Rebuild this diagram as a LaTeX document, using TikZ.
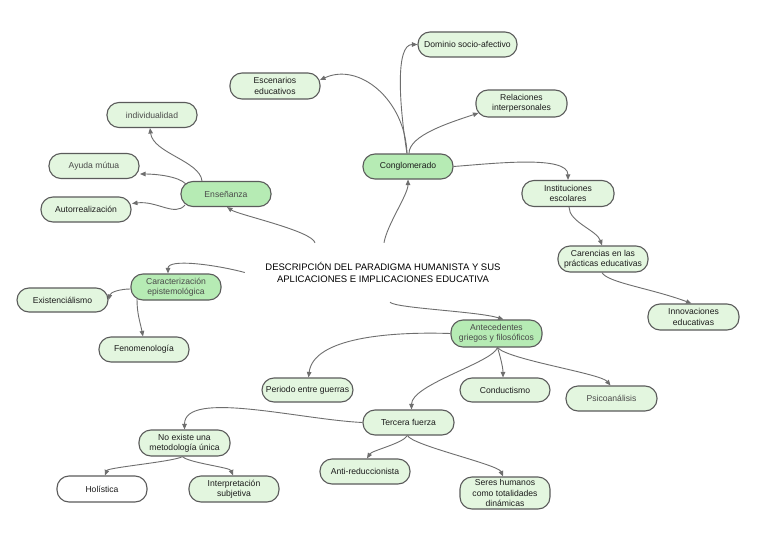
\documentclass[tikz,border=0pt]{standalone}
\usepackage{fontspec}
\setmainfont{Liberation Sans}
\usetikzlibrary{arrows.meta}
\definecolor{lightg}{HTML}{E3F6DF}
\definecolor{darkg}{HTML}{B6EBB4}
\definecolor{bord}{HTML}{5B5B5B}
\definecolor{connc}{HTML}{6E6E6E}
\definecolor{txtdark}{HTML}{1C1C1C}
\definecolor{txtlight}{HTML}{4A4A4A}
\begin{document}
\begin{tikzpicture}[x=1pt,y=-1pt,
  bubble/.style={draw=bord, line width=1.1pt, rounded corners=12pt, fill=lightg,
    minimum width=90pt, minimum height=25pt, align=center, inner sep=1pt,
    font=\fontsize{8.6}{10.2}\selectfont, text=txtdark},
  soft/.style={text=txtlight},
  hub/.style={bubble, fill=darkg},
  plain/.style={bubble, fill=white},
  titlebox/.style={minimum width=276pt, minimum height=59pt, align=center, inner sep=0pt,
    font=\fontsize{9.5}{11.6}\selectfont, text=black},
  conn/.style={draw=connc, line width=0.9pt, -{Triangle[length=5.5pt,width=4.5pt]}},
]
\fill[white] (0,0) rectangle (768,543);
\useasboundingbox (0,0) rectangle (768,543);

% nodes
\node[titlebox] (title) at (383,272.5) {DESCRIPCIÓN DEL PARADIGMA HUMANISTA Y SUS\\APLICACIONES E IMPLICACIONES EDUCATIVA};

\node[bubble, minimum height=26pt] (esc) at (275,86) {Escenarios\\educativos};
\node[bubble, soft] (ind) at (152,115) {individualidad};
\node[bubble, soft] (ayu) at (94,166) {Ayuda mútua};
\node[hub, soft] (ens) at (226,194) {Enseñanza};
\node[bubble] (auto) at (86,209.5) {Autorrealización};
\node[bubble, minimum width=99pt] (dom) at (467.5,44.5) {Dominio socio-afectivo};
\node[bubble, minimum width=91pt, minimum height=27pt] (rel) at (521.5,103.5) {Relaciones\\interpersonales};
\node[hub] (cong) at (408,166.5) {Conglomerado};
\node[bubble, minimum width=92pt, minimum height=26pt] (inst) at (568,193.5) {Instituciones\\escolares};
\node[bubble, minimum height=26pt] (car) at (603,259) {Carencias en las\\prácticas educativas};
\node[bubble, minimum width=91pt, minimum height=26pt] (inn) at (693.5,317) {Innovaciones\\educativas};

\node[hub, soft, minimum height=26pt] (carac) at (176,287) {Caracterización\\epistemológica};
\node[bubble, minimum width=91pt, minimum height=24pt] (exist) at (62.5,300) {Existenciálismo};
\node[bubble] (fen) at (144,349.5) {Fenomenología};

\node[hub, soft, minimum width=91pt, minimum height=27pt] (ant) at (496.5,333.5) {Antecedentes\\griegos y filosóficos};
\node[bubble, minimum width=91pt, minimum height=24pt] (per) at (307.5,390) {Periodo entre guerras};
\node[bubble, minimum height=24pt] (con) at (505,390) {Conductismo};
\node[bubble, soft, minimum width=91pt] (psi) at (611.5,398.5) {Psicoanálisis};
\node[bubble, minimum width=91pt] (ter) at (408.5,422.5) {Tercera fuerza};
\node[bubble] (anti) at (365,471.5) {Anti-reduccionista};
\node[bubble, minimum height=32pt] (ser) at (505,493) {Seres humanos\\como totalidades\\dinámicas};
\node[bubble, minimum width=91pt, minimum height=26pt] (noex) at (184.5,443) {No existe una\\metodología única};
\node[plain, minimum height=26pt] (hol) at (102,489) {Holística};
\node[bubble, minimum height=26pt] (int) at (234,489) {Interpretación\\subjetiva};

% connectors
\draw[conn] ([xshift=-24pt]ens.north) .. controls +(-2,-20) and +(3,25) .. ([xshift=-2pt]ind.south);
\draw[conn] ([xshift=-40pt,yshift=10pt]ens.center) .. controls +(-8,-8) and +(15,0) .. ([xshift=46pt,yshift=-8pt]ayu.center);
\draw[conn] ([xshift=-41pt,yshift=-11pt]ens.center) .. controls +(-10,12) and +(25,-3) .. ([xshift=46pt,yshift=6pt]auto.center);
\draw[conn] ([xshift=-68pt]title.north) .. controls +(-3,-12) and +(12,8) .. ([xshift=1pt]ens.south);
\draw[conn] ([xshift=1pt]title.north) .. controls +(3,-18) and +(0,15) .. (cong.south);
\draw[conn] ([xshift=-1pt]cong.north) .. controls +(-2,-54) and +(39,-18) .. ([xshift=45pt,yshift=6pt]esc.center);
\draw[conn] ([xshift=-1pt]cong.north) .. controls +(-8,-50) and +(-22,0) .. (dom.west);
\draw[conn] ([xshift=1pt]cong.north) .. controls +(0,-18) and +(-30,10) .. ([xshift=-43pt,yshift=-9.5pt]rel.center);
\draw[conn] (cong.east) .. controls +(40,-3) and +(0,-25) .. (inst.north);
\draw[conn] ([xshift=1pt]inst.south) .. controls +(0,15) and +(-5,-15) .. ([xshift=-1pt]car.north);
\draw[conn] ([xshift=-1pt]car.south) .. controls +(5,10) and +(-40,-15) .. ([xshift=-2pt]inn.north);
\draw[conn] (title.west) .. controls +(-30,-8) and +(0,-15) .. ([xshift=-8pt]carac.north);
\draw[conn] ([yshift=-2pt]carac.west) .. controls +(-10,0) and +(2,-8) .. (exist.east);
\draw[conn] ([xshift=-39pt,yshift=-12pt]carac.center) .. controls +(0,15) and +(-3,-15) .. ([xshift=-1pt]fen.north);
\draw[conn] ([xshift=7pt]title.south) .. controls +(5,6) and +(-25,-8) .. ([xshift=7pt]ant.north);
\draw[conn] (ant.west) .. controls +(-60,-2) and +(5,-40) .. ([xshift=1pt]per.north);
\draw[conn] ([xshift=1pt]ant.south) .. controls +(-5,15) and +(0,-25) .. ([xshift=3pt]ter.north);
\draw[conn] ([xshift=1pt]ant.south) .. controls +(3,10) and +(0,-10) .. ([xshift=-2pt]con.north);
\draw[conn] ([xshift=1pt]ant.south) .. controls +(10,12) and +(-10,-12) .. ([xshift=-1pt]psi.north);
\draw[conn] (ter.west) .. controls +(-63,-3) and +(0,-40) .. (noex.north);
\draw[conn] ([xshift=-1pt]ter.south) .. controls +(-5,8) and +(5,-8) .. ([xshift=2pt]anti.north);
\draw[conn] ([xshift=-1pt]ter.south) .. controls +(5,10) and +(-5,-12) .. ([xshift=-2pt]ser.north);
\draw[conn] ([xshift=-2pt]noex.south) .. controls +(-8,5) and +(3,-8) .. ([xshift=3pt]hol.north);
\draw[conn] ([xshift=-2pt]noex.south) .. controls +(5,6) and +(-3,-8) .. ([xshift=-1pt]int.north);
\end{tikzpicture}
\end{document}
